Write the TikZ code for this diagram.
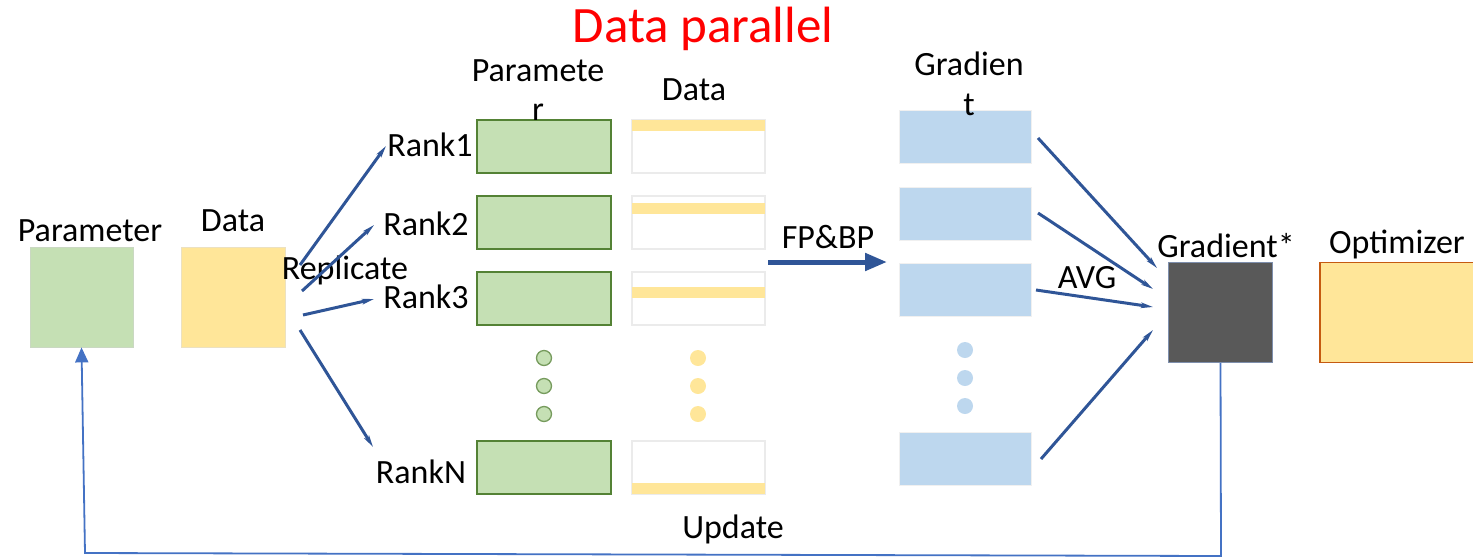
\documentclass[tikz,border=0pt]{standalone}
\usepackage{fontspec}
\setmainfont{Carlito}
\usetikzlibrary{arrows.meta}
\definecolor{pgreen}{HTML}{C5E0B4}
\definecolor{pgreenline}{HTML}{548235}
\definecolor{pyellow}{HTML}{FFE699}
\definecolor{pblue}{HTML}{BDD7EE}
\definecolor{arrowblue}{HTML}{2F5597}
\definecolor{updblue}{HTML}{4472C4}
\definecolor{darkgrey}{HTML}{595959}
\definecolor{optline}{HTML}{C55A11}
\tikzset{
  lbl/.style={font=\fontsize{34}{40}\selectfont, inner sep=0pt, anchor=base},
  rect/.style={inner sep=0pt, minimum width=#1},
  parambox/.style={rect=134pt, minimum height=53pt, fill=pgreen, draw=pgreenline, line width=1.5pt},
  databox/.style={rect=133pt, minimum height=53pt, fill=white, draw=black!8, line width=1.2pt},
  strip/.style={rect=133pt, minimum height=11pt, fill=pyellow, draw=none},
  gradbox/.style={rect=132pt, minimum height=53pt, fill=pblue, draw=black!6, line width=0.8pt},
  gdot/.style={circle, inner sep=0pt, minimum size=15pt, fill=pgreen, draw=pgreenline!80, line width=1.3pt},
  ydot/.style={circle, inner sep=0pt, minimum size=16pt, fill=pyellow},
  bdot/.style={circle, inner sep=0pt, minimum size=16pt, fill=pblue},
  link/.style={draw=arrowblue, line width=3pt, -{Stealth[length=12pt,width=5.5pt,inset=3pt]}},
}
\begin{document}
\begin{tikzpicture}[x=1pt, y=-1pt]
\useasboundingbox (0,0) rectangle (1473,558);

% title
\node[font=\fontsize{51}{60}\selectfont, text=red, inner sep=0pt, anchor=base] (title) at (703,42) {Data parallel};

% model parameter and data on a single device
\node[rect=103pt, minimum height=100pt, fill=pgreen, draw=pgreen!85!black!60, line width=0.8pt] (param) at (81.5,297) {};
\node[rect=104pt, minimum height=100pt, fill=pyellow, draw=pyellow!85!black!50, line width=0.8pt] (data) at (233,297) {};
\node[lbl] (paramlbl) at (90,241) {Parameter};
\node[lbl] (datalbl) at (233,231) {Data};
\node[lbl] (replicate) at (345,279) {Replicate};

% rank labels
\node[lbl] (r1) at (430,156) {Rank1};
\node[lbl] (r2) at (426,235) {Rank2};
\node[lbl] (r3) at (426,308) {Rank3};
\node[lbl] (rN) at (421,483) {RankN};

% replicated parameters per rank
\node[parambox] (p1) at (544,146.5) {};
\node[parambox] (p2) at (544,222.5) {};
\node[parambox] (p3) at (544,298.5) {};
\node[parambox] (pN) at (544,467.5) {};
\node[gdot] (gd1) at (544,358) {};
\node[gdot] (gd2) at (544,386) {};
\node[gdot] (gd3) at (544,414) {};
\node[lbl] (plbl1) at (538,81) {Paramete};
\node[lbl] (plbl2) at (538,120) {r};

% data shards per rank
\node[databox] (d1) at (698.5,146.5) {};
\node[databox] (d2) at (698.5,222.5) {};
\node[databox] (d3) at (698.5,298.5) {};
\node[databox] (dN) at (698.5,467.5) {};
\node[strip] (s1) at (698.5,125) {};
\node[strip] (s2) at (698.5,208.5) {};
\node[strip] (s3) at (698.5,292.5) {};
\node[strip] (sN) at (698.5,488.5) {};
\node[ydot] (yd1) at (698,358) {};
\node[ydot] (yd2) at (698,386) {};
\node[ydot] (yd3) at (698,414) {};
\node[lbl] (dlbl) at (694,100) {Data};

% replicate arrows
\coordinate (a1s) at (300,265); \coordinate (a1e) at (386,146);
\coordinate (a2s) at (302,291); \coordinate (a2e) at (374,225);
\coordinate (a3s) at (303,315); \coordinate (a3e) at (374,299);
\coordinate (a4s) at (300,330); \coordinate (a4e) at (373,447);
\draw[link] (a1s) -- (a1e);
\draw[link] (a2s) -- (a2e);
\draw[link] (a3s) -- (a3e);
\draw[link] (a4s) -- (a4e);

% forward and backward pass
\node[lbl] (fpbp) at (828,248) {FP\&BP};
\coordinate (fs) at (768,262); \coordinate (fe) at (887,262);
\draw[draw=arrowblue, line width=5pt, -{Triangle[length=22pt,width=17pt]}] (fs) -- (fe);

% gradients per rank
\node[gradbox] (g1) at (965,136.5) {};
\node[gradbox] (g2) at (965,213.5) {};
\node[gradbox] (g3) at (965,289.5) {};
\node[gradbox] (gN) at (965,458.5) {};
\node[bdot] (bd1) at (965,350) {};
\node[bdot] (bd2) at (965,378) {};
\node[bdot] (bd3) at (965,406) {};
\node[lbl] (glbl1) at (969,75) {Gradien};
\node[lbl] (glbl2) at (969,115) {t};

% averaging
\coordinate (v1s) at (1038,138); \coordinate (v1e) at (1157,268);
\coordinate (v2s) at (1038,213); \coordinate (v2e) at (1153,289);
\coordinate (v3s) at (1036,290); \coordinate (v3e) at (1153,307);
\coordinate (v4s) at (1041,459); \coordinate (v4e) at (1153,330);
\draw[link] (v1s) -- (v1e);
\draw[link] (v2s) -- (v2e);
\draw[link] (v3s) -- (v3e);
\draw[link] (v4s) -- (v4e);
\node[lbl] (avg) at (1087,288) {AVG};

% averaged gradient and optimizer
\node[rect=104pt, minimum height=100pt, fill=darkgrey, draw=black!40!updblue!60, line width=1pt] (gstar) at (1220.5,312.5) {};
\node[lbl] (gstarlbl) at (1226,257) {Gradient*};
\node[rect=156pt, minimum height=100pt, fill=pyellow, draw=optline, line width=1.5pt] (opt) at (1398,312.5) {};
\node[lbl] (optlbl) at (1397,253) {Optimizer};

% update path back to the parameters
\coordinate (u1) at (1221,556);
\coordinate (u2) at (85,553);
\draw[draw=updblue, line width=1.8pt, -{Triangle[length=15pt,width=13pt]}] (gstar.south) -- (u1) -- (u2) -- (param.south);
\node[lbl] (update) at (733,538) {Update};
\end{tikzpicture}
\end{document}
